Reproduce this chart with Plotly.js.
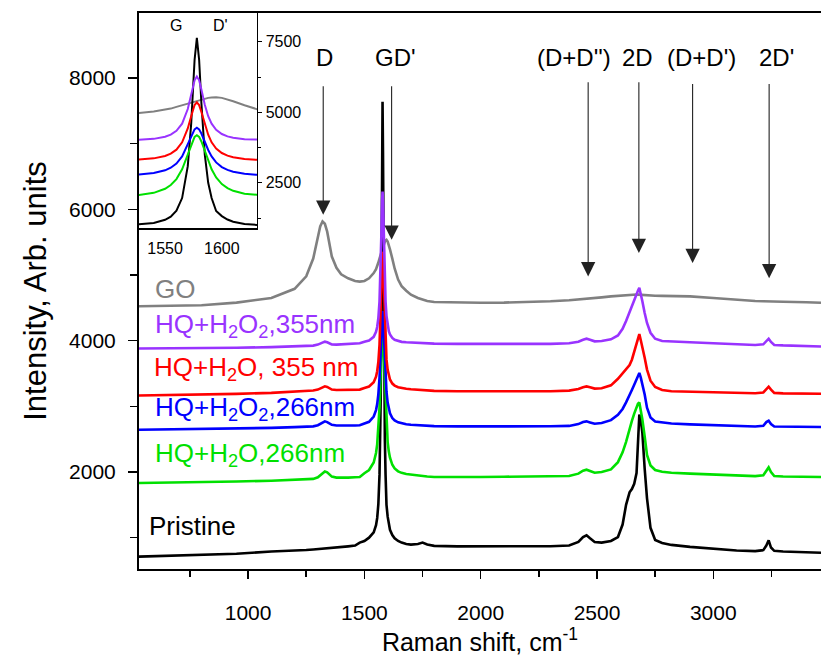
<!DOCTYPE html>
<html>
<head>
<meta charset="utf-8">
<script src="https://cdn.plot.ly/plotly-3.0.1.min.js"></script>
<style>html,body{margin:0;padding:0;background:#fff;}#chart{width:821px;height:657px;}</style>
</head>
<body>
<div id="chart"></div>
<script>
// Raman shift sample positions (cm^-1)
const ramanShift = [530,650,800,950,1100,1200,1250,1280,1300,1310,
 1320,1330,1340,1350,1360,1380,1400,1430,1460,1480,
 1500,1520,1540,1550,1555,1560,1565,1570,1573,1576,
 1578,1580,1582,1585,1588,1591,1595,1600,1605,1610,
 1620,1630,1645,1660,1680,1700,1730,1750,1770,1800,
 1900,2000,2100,2200,2300,2380,2420,2440,2455,2470,
 2490,2520,2560,2590,2610,2625,2640,2650,2660,2670,
 2676,2682,2688,2695,2705,2715,2730,2750,2780,2820,
 2900,3000,3100,3180,3215,3228,3238,3248,3262,3300,
 3400,3463];

const intensityGO = [4525,4530,4540,4580,4650,4790,4980,5250,5600,5740,
 5815,5780,5660,5450,5280,5110,5010,4950,4910,4900,
 4910,4950,5030,5090,5130,5190,5250,5310,5350,5390,
 5410,5440,5460,5490,5510,5525,5535,5510,5460,5390,
 5250,5100,4930,4830,4760,4700,4650,4625,4605,4590,
 4580,4578,4580,4585,4600,4615,4625,4630,4635,4640,
 4645,4660,4675,4685,4692,4697,4700,4702,4703,4703,
 4702,4700,4698,4696,4693,4690,4688,4685,4682,4680,
 4675,4650,4620,4605,4600,4598,4597,4596,4595,4592,
 4585,4578];

const intensityH2O2_355 = [3880,3882,3886,3892,3902,3912,3918,3925,3940,3955,
 3975,3985,3975,3955,3942,3940,3942,3945,3950,3960,
 3984,4003,4058,4134,4209,4341,4595,5115,5622,6134,
 6270,6134,5808,5268,4861,4595,4378,4230,4146,4096,
 4041,4013,3992,3982,3975,3972,3966,3962,3958,3955,
 3952,3950,3950,3950,3952,3960,3985,4015,4030,4015,
 3990,3995,4020,4080,4180,4300,4440,4540,4630,4700,
 4760,4806,4720,4600,4420,4270,4120,4030,3995,3985,
 3975,3960,3945,3935,3945,3985,4030,3980,3935,3928,
 3918,3912];

const intensityH2O_355 = [3165,3170,3180,3190,3205,3225,3232,3240,3255,3275,
 3295,3305,3295,3270,3255,3248,3248,3250,3252,3255,
 3280,3302,3367,3451,3534,3675,3935,4428,4861,5255,
 5355,5255,5008,4567,4205,3935,3715,3556,3465,3409,
 3347,3316,3292,3280,3268,3260,3250,3245,3240,3235,
 3230,3228,3227,3227,3230,3240,3265,3292,3303,3290,
 3270,3275,3320,3420,3510,3578,3630,3710,3840,3985,
 4060,4100,4010,3910,3740,3560,3390,3295,3250,3230,
 3222,3212,3205,3200,3212,3260,3300,3255,3205,3198,
 3194,3192];

const intensityH2O2_266 = [2644,2648,2655,2662,2672,2683,2688,2695,2712,2735,
 2760,2771,2760,2735,2718,2708,2706,2706,2708,2712,
 2739,2765,2845,2943,3034,3183,3435,3847,4151,4394,
 4450,4394,4247,3948,3663,3435,3223,3058,2958,2894,
 2822,2785,2756,2741,2728,2720,2712,2708,2702,2698,
 2695,2694,2694,2694,2696,2702,2730,2762,2771,2755,
 2735,2745,2790,2870,2960,3060,3165,3250,3330,3410,
 3470,3508,3440,3350,3180,2980,2830,2770,2752,2738,
 2725,2712,2700,2692,2705,2760,2782,2730,2692,2690,
 2687,2685];

const intensityH2O_266 = [1832,1836,1845,1855,1868,1880,1886,1895,1920,1955,
 1990,2009,1995,1960,1930,1915,1912,1915,1920,1925,
 1982,2030,2145,2289,2422,2632,2977,3498,3857,4129,
 4190,4129,3965,3619,3268,2977,2688,2456,2311,2217,
 2110,2054,2010,1987,1970,1960,1948,1940,1932,1925,
 1922,1925,1928,1930,1935,1940,1975,2020,2035,2020,
 1990,2000,2040,2150,2300,2460,2670,2780,2890,2990,
 3040,3060,2960,2800,2540,2260,2100,2030,2005,1988,
 1975,1958,1945,1938,1950,2030,2070,2000,1938,1932,
 1927,1924];

const intensityPristine = [712,722,735,755,790,800,812,820,825,830,
 835,838,840,843,846,852,860,868,880,925,
 950,1000,1080,1190,1300,1510,1960,3090,4600,6860,
 7640,6860,5320,3500,2500,1960,1500,1320,1200,1120,
 1040,990,950,925,905,895,905,925,895,875,
 868,866,866,867,870,880,935,1010,1035,990,
 935,925,950,1010,1200,1500,1690,1740,1820,1985,
 2450,2873,2800,2600,2050,1600,1150,965,920,890,
 860,830,805,795,810,880,960,850,800,790,
 780,771];

const seriesNames = ['GO','Pristine','HQ+H<sub>2</sub>O,266nm','HQ+H<sub>2</sub>O<sub>2</sub>,266nm','HQ+H<sub>2</sub>O, 355 nm','HQ+H<sub>2</sub>O<sub>2</sub>,355nm'];
const seriesData = [intensityGO, intensityPristine, intensityH2O_266, intensityH2O2_266, intensityH2O_355, intensityH2O2_355];
const seriesColors = ['#808080','#000000','#00e000','#0000ff','#ff0000','#9933ff'];
// label anchor points (data coordinates)
const labelX = [591, 566, 591, 591, 585, 591];
const labelY = [4791, 1172, 2263, 2964, 3573, 4228];

// peak markers
const peakNames = ['D','GD\'','(D+D\'\')','2D','(D+D\')','2D\''];
const peakTextX = [1330, 1633, 2401, 2672, 2951, 3273];
const peakArrowX = [1323, 1617, 2462, 2680, 2911, 3240];
const peakArrowTip = [5918, 5537, 4979, 5335, 5183, 4951];
const peakArrowTail = [7898, 7898, 7960, 7960, 7930, 7930];
const peakTextY = 8305;

// inset labels
const insetNames = ['G','D\''];
const insetX = [1560, 1598.5];
const insetY = [8092, 8092];

const FONT = 'Liberation Sans, Arial, Helvetica, sans-serif';

const traces = [];
seriesData.forEach((ys, i) => {
  traces.push({x: ramanShift, y: ys, type: 'scatter', mode: 'lines', name: seriesNames[i],
    line: {color: seriesColors[i], width: 2.6}, xaxis: 'x', yaxis: 'y', hoverinfo: 'skip'});
});
seriesData.forEach((ys, i) => {
  traces.push({x: ramanShift, y: ys, type: 'scatter', mode: 'lines', name: seriesNames[i] + ' (inset)',
    line: {color: seriesColors[i], width: 2}, xaxis: 'x2', yaxis: 'y2', hoverinfo: 'skip'});
});

const annotations = [];
seriesNames.forEach((n, i) => {
  annotations.push({x: labelX[i], y: labelY[i], xref: 'x', yref: 'y', text: n, showarrow: false,
    xanchor: 'left', yanchor: 'middle', font: {size: 26, color: seriesColors[i], family: FONT}});
});
peakNames.forEach((n, i) => {
  annotations.push({x: peakTextX[i], y: peakTextY, xref: 'x', yref: 'y', text: n, showarrow: false,
    xanchor: 'center', yanchor: 'middle', font: {size: 24, color: '#000', family: FONT}});
  annotations.push({x: peakArrowX[i], y: peakArrowTip[i], ax: peakArrowX[i], ay: peakArrowTail[i],
    xref: 'x', yref: 'y', axref: 'x', ayref: 'y', text: '', showarrow: true,
    arrowhead: 2, arrowsize: 2.6, arrowwidth: 1.1, arrowcolor: '#222', standoff: 0, startstandoff: 0});
});
insetNames.forEach((n, i) => {
  annotations.push({x: insetX[i], y: insetY[i], xref: 'x2', yref: 'y2', text: n, showarrow: false,
    xanchor: 'center', yanchor: 'middle', font: {size: 16, color: '#000', family: FONT}});
});

const layout = {
  width: 821, height: 657,
  margin: {l: 139, r: 0, t: 13, b: 88, pad: 0},
  paper_bgcolor: '#fff', plot_bgcolor: '#fff',
  font: {family: FONT, color: '#000'},
  showlegend: false,
  hovermode: false,
  xaxis: {
    range: [531, 3463], tickmode: 'linear', tick0: 0, dtick: 500,
    ticks: 'outside', ticklen: 8, tickwidth: 1.5, tickcolor: '#000',
    minor: {tickmode: 'linear', dtick: 250, ticks: 'outside', ticklen: 6, tickwidth: 1.5, tickcolor: '#000'},
    showline: true, linewidth: 2, linecolor: '#000', mirror: true,
    showgrid: false, zeroline: false,
    tickfont: {size: 21, family: FONT}, ticklabelstandoff: 16,
    title: {text: 'Raman shift, cm<sup>-1</sup>', font: {size: 25, family: FONT}, standoff: 9}
  },
  yaxis: {
    range: [523, 8990], tickmode: 'linear', tick0: 0, dtick: 2000,
    ticks: 'outside', ticklen: 9, tickwidth: 1.5, tickcolor: '#000',
    minor: {tickmode: 'linear', dtick: 1000, ticks: 'outside', ticklen: 7, tickwidth: 1.5, tickcolor: '#000'},
    showline: true, linewidth: 2, linecolor: '#000', mirror: false,
    showgrid: false, zeroline: false,
    tickfont: {size: 21, family: FONT}, ticklabelstandoff: 8,
    title: {text: 'Intensity, Arb. units', font: {size: 31, family: FONT}, standoff: 13}
  },
  xaxis2: {
    domain: [0, 0.173], anchor: 'y2', range: [1527, 1631], tickmode: 'linear', tick0: 0, dtick: 50,
    ticks: '', showline: true, linewidth: 1.5, linecolor: '#000',
    showgrid: false, zeroline: false, tickfont: {size: 16, family: FONT}, ticklabelstandoff: 5
  },
  yaxis2: {
    domain: [0.613, 1], anchor: 'x2', side: 'right', range: [893, 8518], tickmode: 'linear', tick0: 0, dtick: 2500,
    ticks: 'outside', ticklen: 4, tickwidth: 1, tickcolor: '#000',
    minor: {tickmode: 'linear', dtick: 1250, ticks: 'outside', ticklen: 3, tickwidth: 1, tickcolor: '#000'},
    showline: true, linewidth: 1.5, linecolor: '#000', mirror: false,
    showgrid: false, zeroline: false, tickfont: {size: 16, family: FONT}, ticklabelstandoff: 0
  },
  annotations: annotations
};

Plotly.newPlot('chart', traces, layout, {displayModeBar: false, staticPlot: true});
</script>
</body>
</html>
